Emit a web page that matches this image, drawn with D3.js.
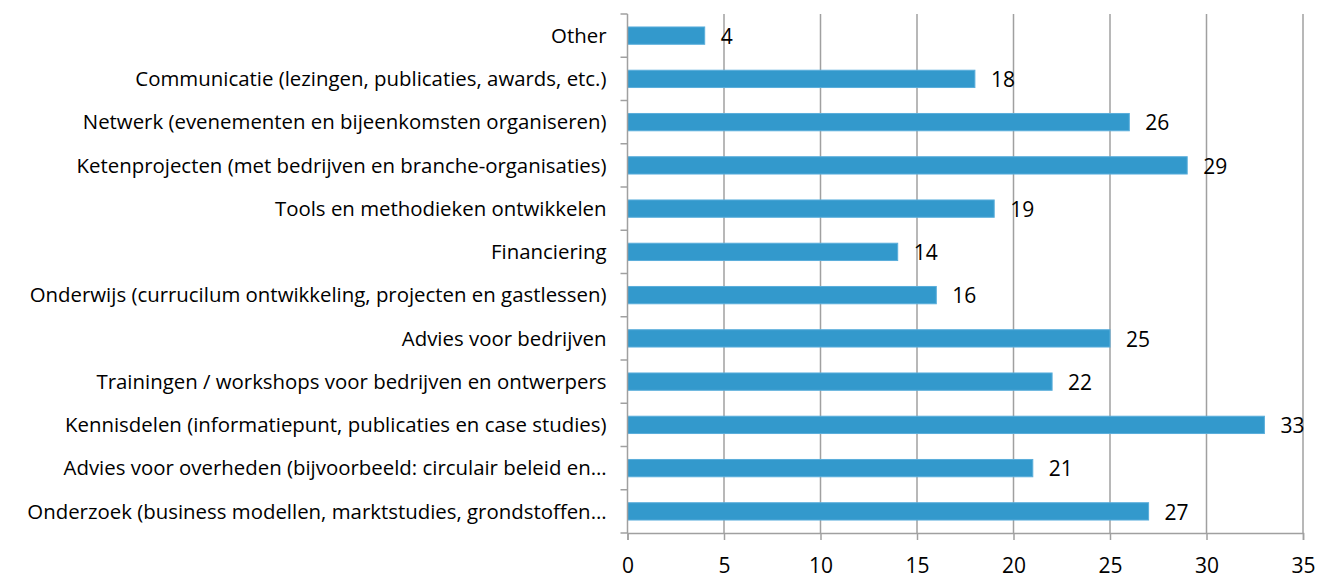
<!DOCTYPE html>
<html>
<head>
<meta charset="utf-8">
<script src="https://cdn.jsdelivr.net/npm/d3@7"></script>
<style>
  body { margin: 0; background: #fff; }
  svg text { font-family: "Open Sans", "Noto Sans", sans-serif; fill: #000; }
</style>
</head>
<body>
<div id="chart"></div>
<script>
// categories, top to bottom as in the chart
const categories = [
    "Other",
    "Communicatie (lezingen, publicaties, awards, etc.)",
    "Netwerk (evenementen en bijeenkomsten organiseren)",
    "Ketenprojecten (met bedrijven en branche-organisaties)",
    "Tools en methodieken ontwikkelen",
    "Financiering",
    "Onderwijs (currucilum ontwikkeling, projecten en gastlessen)",
    "Advies voor bedrijven",
    "Trainingen / workshops voor bedrijven en ontwerpers",
    "Kennisdelen (informatiepunt, publicaties en case studies)",
    "Advies voor overheden (bijvoorbeeld: circulair beleid en…",
    "Onderzoek (business modellen, marktstudies, grondstoffen…"
];
const values = [4, 18, 26, 29, 19, 14, 16, 25, 22, 33, 21, 27];
const xTicks = [0, 5, 10, 15, 20, 25, 30, 35];

const data = categories.map((c, i) => ({ name: c, value: values[i] }));

const width = 1331, height = 578;
const margin = { top: 14, right: 28, bottom: 45, left: 627.5 };
const innerW = width - margin.left - margin.right;
const innerH = height - margin.top - margin.bottom;

const svg = d3.select("#chart")
    .append("svg")
    .attr("width", width)
    .attr("height", height);

const chart = svg.append("g")
    .attr("transform", `translate(${margin.left},${margin.top})`);

const x = d3.scaleLinear()
    .domain([0, 35])
    .range([0, innerW]);

const y = d3.scaleBand()
    .domain(categories)
    .range([0, innerH])
    .paddingInner(0.6)
    .paddingOuter(0.3);

const gridColor = "#a0a0a0";

// vertical gridlines
chart.selectAll(".grid")
    .data(xTicks.filter(d => d > 0))
    .enter()
    .append("line")
    .attr("class", "grid")
    .attr("x1", d => x(d))
    .attr("x2", d => x(d))
    .attr("y1", 0)
    .attr("y2", innerH)
    .attr("stroke", gridColor)
    .attr("stroke-width", 1.5);

// bars
chart.selectAll(".bar")
    .data(data)
    .enter()
    .append("rect")
    .attr("class", "bar")
    .attr("x", 0)
    .attr("y", d => y(d.name))
    .attr("width", d => x(d.value))
    .attr("height", y.bandwidth())
    .attr("fill", "#3399cc")
    .attr("stroke", "#5aaedb")
    .attr("stroke-width", 1);

// value labels
chart.selectAll(".val")
    .data(data)
    .enter()
    .append("text")
    .attr("class", "val")
    .attr("x", d => x(d.value) + 16)
    .attr("y", d => y(d.name) + y.bandwidth() / 2 + 1)
    .attr("dy", "0.35em")
    .style("font-size", "21px")
    .text(d => d.value);

// bottom axis
const xAxis = chart.append("g")
    .attr("transform", `translate(0,${innerH})`)
    .call(d3.axisBottom(x).tickValues(xTicks).tickSize(7).tickPadding(18));
xAxis.select(".domain").attr("stroke", gridColor).attr("stroke-width", 1.5);
xAxis.selectAll(".tick line").attr("stroke", gridColor).attr("stroke-width", 1.5);
xAxis.selectAll(".tick text").style("font-size", "21px").attr("fill", "#000");

// left axis: line with tick marks between categories
const leftAxis = chart.append("g");
leftAxis.append("line")
    .attr("x1", 0).attr("x2", 0)
    .attr("y1", 0).attr("y2", innerH)
    .attr("stroke", gridColor)
    .attr("stroke-width", 1.5);
const step = y.step();
leftAxis.selectAll(".ytick")
    .data(d3.range(categories.length + 1))
    .enter()
    .append("line")
    .attr("class", "ytick")
    .attr("x1", -7).attr("x2", 0)
    .attr("y1", i => i * step)
    .attr("y2", i => i * step)
    .attr("stroke", gridColor)
    .attr("stroke-width", 1.5);

// category labels
leftAxis.selectAll(".cat")
    .data(categories)
    .enter()
    .append("text")
    .attr("class", "cat")
    .attr("x", -21)
    .attr("y", d => y(d) + y.bandwidth() / 2)
    .attr("dy", "0.35em")
    .attr("text-anchor", "end")
    .style("font-size", "20.4px")
    .text(d => d);
</script>
</body>
</html>
